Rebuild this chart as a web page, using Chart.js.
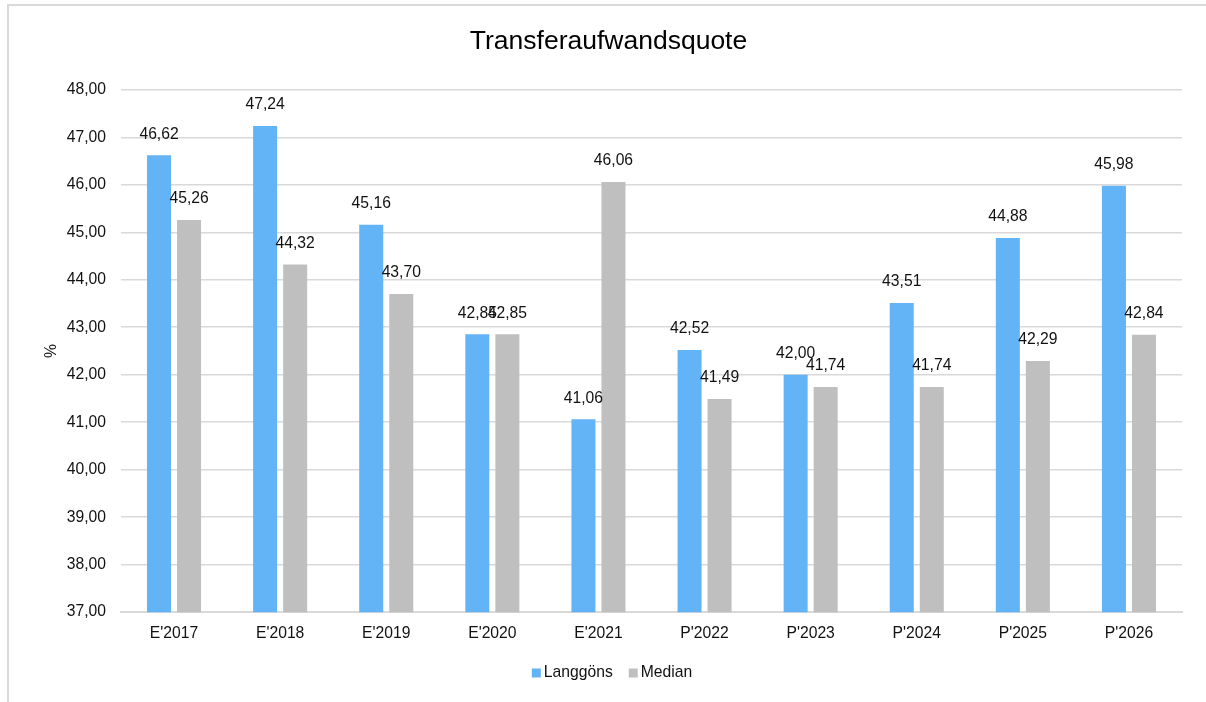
<!DOCTYPE html>
<html>
<head>
<meta charset="utf-8">
<script src="https://cdn.jsdelivr.net/npm/chart.js@4.4.0/dist/chart.umd.min.js"></script>
<style>
  html, body { margin: 0; padding: 0; background: #fff; }
  #wrap { position: relative; width: 1206px; height: 702px; overflow: hidden; }
  #frame { position: absolute; left: 7px; top: 4px; width: 1210px; height: 710px; border-left: 2px solid #d9d9d9; border-top: 2px solid #d9d9d9; box-sizing: border-box; pointer-events: none; }
  canvas { position: absolute; left: 0; top: 0; }
</style>
</head>
<body>
<div id="wrap">
  <canvas id="c" width="1206" height="702"></canvas>
  <div id="frame"></div>
</div>
<script>
const categories = ["E'2017", "E'2018", "E'2019", "E'2020", "E'2021", "P'2022", "P'2023", "P'2024", "P'2025", "P'2026"];
const langgoens = [46.62, 47.24, 45.16, 42.85, 41.06, 42.52, 42.00, 43.51, 44.88, 45.98];
const median = [45.26, 44.32, 43.70, 42.85, 46.06, 41.49, 41.74, 41.74, 42.29, 42.84];
const seriesNames = ["Langgöns", "Median"];
const seriesColors = ['#63b4f6', '#bfbfbf'];
const yMin = 37, yMax = 48, yStep = 1;

const FONT = '"Liberation Sans", Arial, sans-serif';
const FS = 15.7;
const TEXT = '#111111';
const fmt = v => v.toFixed(2).replace('.', ',');

const valueLabels = {
  id: 'valueLabels',
  afterDatasetsDraw(chart) {
    const ctx = chart.ctx;
    ctx.save();
    ctx.font = FS + 'px ' + FONT;
    ctx.fillStyle = TEXT;
    ctx.textAlign = 'center';
    ctx.textBaseline = 'middle';
    chart.data.datasets.forEach((ds, i) => {
      const meta = chart.getDatasetMeta(i);
      meta.data.forEach((bar, j) => {
        ctx.fillText(fmt(ds.data[j]), bar.x, bar.y - 21);
      });
    });
    ctx.restore();
  }
};

const bottomLegend = {
  id: 'bottomLegend',
  afterDraw(chart) {
    const ctx = chart.ctx;
    ctx.save();
    ctx.font = FS + 'px ' + FONT;
    ctx.textBaseline = 'middle';
    ctx.textAlign = 'left';
    const box = 9, gap = 3, itemGap = 16, cy = 673;
    const items = chart.data.datasets.map(ds => ({ text: ds.label, color: ds.backgroundColor, w: box + gap + ctx.measureText(ds.label).width }));
    const total = items.reduce((s, it) => s + it.w, 0) + itemGap * (items.length - 1);
    let x = 612 - total / 2;
    items.forEach(it => {
      ctx.fillStyle = it.color;
      ctx.fillRect(x, cy - box / 2, box, box);
      ctx.fillStyle = TEXT;
      ctx.fillText(it.text, x + box + gap, cy);
      x += it.w + itemGap;
    });
    ctx.restore();
  }
};

new Chart(document.getElementById('c'), {
  type: 'bar',
  data: {
    labels: categories,
    datasets: [
      { label: seriesNames[0], data: langgoens, backgroundColor: seriesColors[0], borderWidth: 0,
        categoryPercentage: 0.566, barPercentage: 0.8 },
      { label: seriesNames[1], data: median, backgroundColor: seriesColors[1], borderWidth: 0,
        categoryPercentage: 0.566, barPercentage: 0.8 }
    ]
  },
  options: {
    responsive: false,
    animation: false,
    devicePixelRatio: 1,
    layout: { padding: { left: 35, right: 24, top: 0, bottom: 47 } },
    plugins: {
      title: {
        display: true,
        text: 'Transferaufwandsquote',
        color: '#000',
        font: { family: FONT, size: 26.5, weight: 'normal' },
        padding: { top: 26, bottom: 32 }
      },
      legend: { display: false },
      tooltip: { enabled: false }
    },
    scales: {
      x: {
        grid: { display: false, drawTicks: false },
        border: { color: '#d9d9d9', width: 2 },
        ticks: { color: TEXT, padding: 12, font: { family: FONT, size: FS } }
      },
      y: {
        min: yMin, max: yMax,
        afterFit(scale) { scale.width = 86; },
        grid: { color: '#d9d9d9', lineWidth: 1.5, drawTicks: false },
        border: { display: false },
        ticks: { stepSize: yStep, color: TEXT, padding: 15,
          font: { family: FONT, size: FS },
          callback: v => fmt(v) },
        title: { display: true, text: '%', color: TEXT,
          font: { family: FONT, size: FS }, padding: { top: 7, bottom: 0 } }
      }
    }
  },
  plugins: [valueLabels, bottomLegend]
});
</script>
</body>
</html>
